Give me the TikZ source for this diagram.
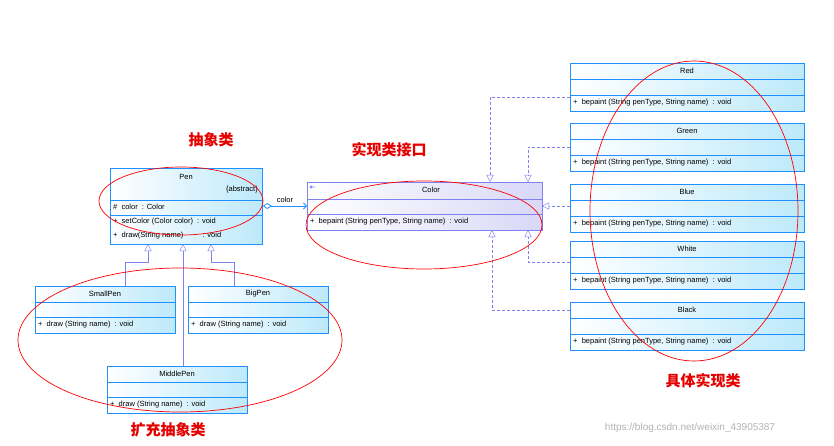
\documentclass[tikz,border=0pt]{standalone}
\usepackage{fontspec}
\setmainfont{Liberation Sans}
\newfontfamily\cjk{Noto Sans CJK SC}
\usetikzlibrary{arrows.meta}
\definecolor{bb}{HTML}{1E90FF}
\definecolor{fc}{HTML}{BDE9FA}
\definecolor{pb}{HTML}{8080F0}
\definecolor{pf}{HTML}{D8D8F8}
\tikzset{
 cls/.style={draw=bb,line width=0.8pt,left color=white,right color=fc},
 icls/.style={draw=pb,line width=0.8pt,left color=white,right color=pf},
 sep/.style={draw=bb,line width=0.8pt},
 txt/.style={font=\fontsize{7.5}{8}\selectfont,inner sep=0pt},
 real/.style={draw=pb,dashed,dash pattern=on 3pt off 2pt,-{Triangle[open,length=7pt,width=7pt]}},
 gen/.style={draw=pb,-{Triangle[open,length=7pt,width=7pt]}},
 ell/.style={draw=red,line width=0.7pt},
 lab/.style={text=red!90!black,font=\cjk\bfseries\fontsize{15}{16}\selectfont}
}
\begin{document}
\begin{tikzpicture}[x=1pt,y=-1pt]
\useasboundingbox (0,0) rectangle (834,446);
% impl classes
\foreach \n/\t/\y in {red/Red/63,green/Green/123,blue/Blue/184,white/White/241,black/Black/302}{
 \node[cls,minimum width=234pt,minimum height=48pt,anchor=north west,inner sep=0pt] (\n) at (570,\y) {};
 \draw[sep] (570,\y+16) -- (804,\y+16) (570,\y+32) -- (804,\y+32);
 \node[txt] (\n t) at (687,\y+8) {\t};
 \node[txt,anchor=west] (\n o) at (573,\y+40) {+\ \ bepaint (String penType, String name) \ : void};
}
% Color interface
\node[icls,minimum width=235pt,minimum height=48pt,anchor=north west,inner sep=0pt] (color) at (307,182) {};
\draw[draw=pb,line width=0.8pt] (307,199) -- (542,199) (307,214) -- (542,214);
\node[txt] (colort) at (431,190) {Color};
\coordinate (ci) at (311,187);
\draw[pb,line width=0.7pt] (ci) circle (1.2pt) (ci) ++(1.2,0) -- ++(3,0);
\node[txt,anchor=west] (colo) at (310,222) {+\ \ bepaint (String penType, String name) \ : void};
% Pen
\node[cls,minimum width=152pt,minimum height=76pt,anchor=north west,inner sep=0pt] (pen) at (110,168) {};
\draw[sep] (110,200) -- (262,200) (110,215) -- (262,215);
\node[txt] (pent) at (186,177) {Pen};
\node[txt,anchor=east] (pena) at (258,190) {\{abstract\}};
\node[txt,anchor=west] (penc) at (113,207) {\#\ \ color \ : Color};
\node[txt,anchor=west] (pens) at (113,222) {+\ \ setColor (Color color) \ : void};
\node[txt,anchor=west] (pend) at (113,236) {+\ \ draw(String name) \qquad\ : void};
% subclasses
\foreach \n/\t/\x/\y in {small/SmallPen/35/286,big/BigPen/188/286,middle/MiddlePen/107/366}{
 \node[cls,minimum width=140pt,minimum height=47pt,anchor=north west,inner sep=0pt] (\n) at (\x,\y) {};
 \draw[sep] (\x,\y+16) -- (\x+140,\y+16) (\x,\y+31) -- (\x+140,\y+31);
 \node[txt] (\n t) at (\x+70,\y+8) {\t};
 \node[txt,anchor=west] (\n o) at (\x+3,\y+39) {+\ \ draw (String name) \ : void};
}
% realization connectors
\draw[real] (red.west|-0,97) -| (490,182);
\draw[real] (green.west|-0,147) -| (528,182);
\draw[real] (blue.west|-0,206) -- (542,206);
\draw[real] (white.west|-0,262) -| (528,230);
\draw[real] (black.west|-0,310) -| (492,230);
% association
\draw[bb,line width=0.8pt,{Diamond[open,length=9pt,width=6pt]}-{Straight Barb[length=3pt,width=6pt]}] (pen.east|-0,206) -- (color.west|-0,206) node[midway,above,txt,yshift=3pt,black] {color};
% generalization
\draw[gen] (small.north-|125,0) |- (148,262) -- (148,244);
\draw[gen] (big.north-|234,0) |- (211,262) -- (211,244);
\draw[gen] (middle.north-|183,0) -- (183,244);
% ellipses
\draw[ell] (181,201) ellipse [x radius=82,y radius=34];
\draw[ell] (424,225) ellipse [x radius=118,y radius=44];
\draw[ell] (694,211) ellipse [x radius=104,y radius=150];
\draw[ell] (180,340) ellipse [x radius=162,y radius=72];
% labels
\node[lab] (l1) at (211,140) {抽象类};
\node[lab] (l2) at (389,150) {实现类接口};
\node[lab] (l3) at (703,381) {具体实现类};
\node[lab] (l4) at (168,430) {扩充抽象类};
\node[font=\fontsize{10}{11}\selectfont,text=gray!60] (wm) at (690,428) {https://blog.csdn.net/weixin\_43905387};
\end{tikzpicture}
\end{document}
